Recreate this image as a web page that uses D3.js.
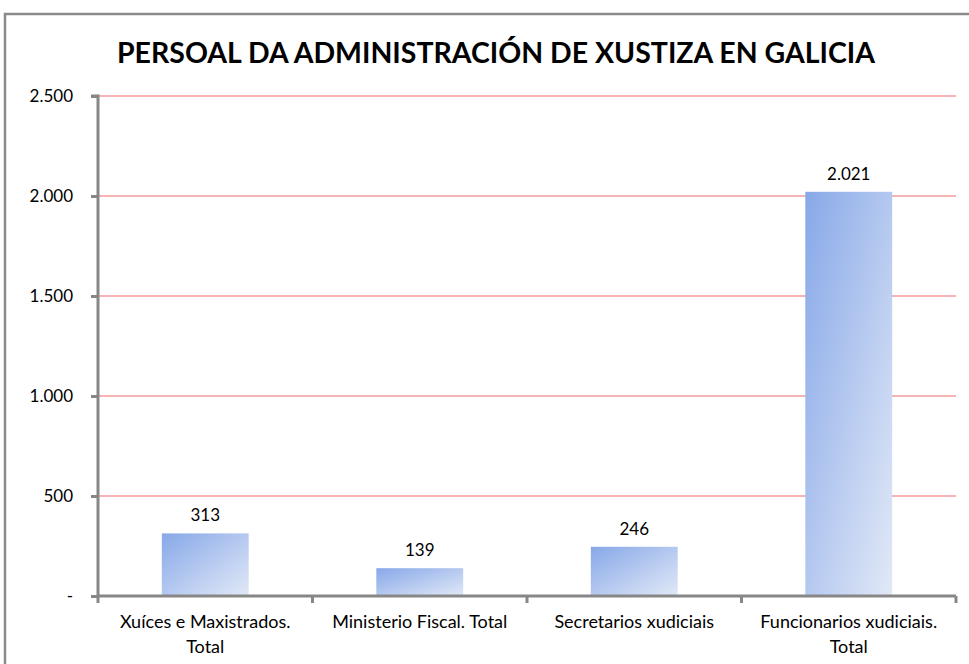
<!DOCTYPE html>
<html>
<head>
<meta charset="utf-8">
<script src="https://cdn.jsdelivr.net/npm/d3@7"></script>
<style>
  body { margin: 0; background: #fff; }
  text { font-family: Lato, "Open Sans", sans-serif; fill: #000; }
</style>
</head>
<body>
<div id="chart"></div>
<script>
// chart data
var categories = ["Xuíces e Maxistrados. Total", "Ministerio Fiscal. Total", "Secretarios xudiciais", "Funcionarios xudiciais. Total"];
var labelLines = [["Xuíces e Maxistrados.", "Total"], ["Ministerio Fiscal. Total"], ["Secretarios xudiciais"], ["Funcionarios xudiciais.", "Total"]];
var values = [313, 139, 246, 2021];
var yTicks = [0, 500, 1000, 1500, 2000, 2500];
var title = "PERSOAL DA ADMINISTRACIÓN DE XUSTIZA EN GALICIA";

var width = 969, height = 664;
var margin = {top: 96, left: 98, right: 11, bottom: 68};

var svg = d3.select("#chart").append("svg")
    .attr("width", width)
    .attr("height", height);

// gradient fill of the bars
var grad = svg.append("defs").append("linearGradient")
    .attr("id", "barGrad")
    .attr("x1", 0).attr("y1", 0)
    .attr("x2", 1).attr("y2", 1);
grad.append("stop").attr("offset", "0%").attr("stop-color", "#87a8e8");
grad.append("stop").attr("offset", "100%").attr("stop-color", "#e2e9f7");

// outer frame
svg.append("rect")
    .attr("x", 5).attr("y", 14)
    .attr("width", 980).attr("height", 680)
    .attr("fill", "none")
    .attr("stroke", "#8a8a8a")
    .attr("stroke-width", 2.5);

svg.append("text")
    .attr("x", 496).attr("y", 63)
    .attr("text-anchor", "middle")
    .attr("font-size", 29)
    .attr("font-weight", "bold")
    .attr("textLength", 758)
    .attr("lengthAdjust", "spacingAndGlyphs")
    .text(title);

var x = d3.scaleBand()
    .domain(categories)
    .range([margin.left, width - margin.right - 2])
    .paddingInner(0.595)
    .paddingOuter(0.2975);

var y = d3.scaleLinear()
    .domain([0, 2500])
    .range([height - margin.bottom, margin.top]);

var loc = d3.formatLocale({decimal: ",", thousands: ".", grouping: [3], currency: ["", "€"]});
var fmt = loc.format(",d");

// gridlines
svg.append("g").selectAll("line")
    .data(yTicks.filter(function(d) { return d > 0; }))
    .enter().append("line")
    .attr("x1", margin.left).attr("x2", x.range()[1])
    .attr("y1", function(d) { return y(d); })
    .attr("y2", function(d) { return y(d); })
    .attr("stroke", "#f29a9a")
    .attr("stroke-width", 1.5);

// bars
svg.append("g").selectAll("rect")
    .data(values)
    .enter().append("rect")
    .attr("x", function(d, i) { return x(categories[i]); })
    .attr("y", function(d) { return y(d); })
    .attr("width", x.bandwidth())
    .attr("height", function(d) { return y(0) - y(d); })
    .attr("fill", "url(#barGrad)");

// value labels
svg.append("g").selectAll("text")
    .data(values)
    .enter().append("text")
    .attr("x", function(d, i) { return x(categories[i]) + x.bandwidth() / 2; })
    .attr("y", function(d) { return y(d) - 12; })
    .attr("text-anchor", "middle")
    .attr("font-size", 17)
    .text(function(d) { return fmt(d); });

// y axis
var yAxis = d3.axisLeft(y)
    .tickValues(yTicks)
    .tickSize(7)
    .tickPadding(18)
    .tickFormat(function(d) { return d === 0 ? "-" : fmt(d); });

var gy = svg.append("g")
    .attr("transform", "translate(" + margin.left + ",0)")
    .call(yAxis);
gy.select(".domain").attr("stroke", "#878787").attr("stroke-width", 3)
    .attr("d", "M-7," + y(2500) + "H0V" + y(0));
gy.selectAll(".tick line").attr("stroke", "#878787").attr("stroke-width", 3);
gy.selectAll(".tick text").attr("font-size", 17).attr("font-family", "Lato");

// x axis line with ticks at the category edges
var x0 = x.range()[0], step = x.step();
var edges = d3.range(categories.length + 1).map(function(i) { return x0 + i * step; });
var gx = svg.append("g");
gx.append("line")
    .attr("x1", x0).attr("x2", edges[edges.length - 1])
    .attr("y1", y(0)).attr("y2", y(0))
    .attr("stroke", "#878787").attr("stroke-width", 3);
gx.selectAll(".edge")
    .data(edges)
    .enter().append("line")
    .attr("class", "edge")
    .attr("x1", function(d) { return d; }).attr("x2", function(d) { return d; })
    .attr("y1", y(0)).attr("y2", y(0) + 7)
    .attr("stroke", "#878787").attr("stroke-width", 3);

// category labels
var cat = svg.append("g").selectAll("text")
    .data(labelLines)
    .enter().append("text")
    .attr("text-anchor", "middle")
    .attr("font-size", 18)
    .attr("transform", function(d, i) {
        return "translate(" + (x(categories[i]) + x.bandwidth() / 2) + "," + (y(0) + 32) + ")";
    });
cat.selectAll("tspan")
    .data(function(d) { return d; })
    .enter().append("tspan")
    .attr("x", 0)
    .attr("dy", function(d, i) { return i === 0 ? 0 : 25; })
    .text(function(d) { return d; });
</script>
</body>
</html>
